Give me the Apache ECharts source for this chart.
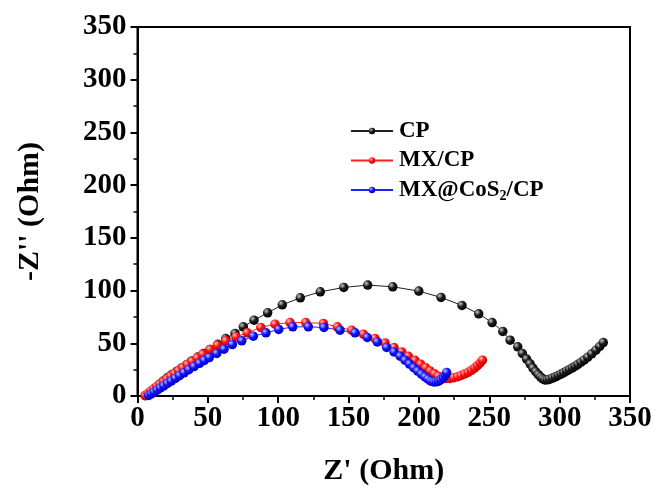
<!DOCTYPE html>
<html>
<head>
<meta charset="utf-8">
<script src="https://cdn.jsdelivr.net/npm/echarts@6/dist/echarts.min.js"></script>
<style>
  html, body { margin: 0; padding: 0; background: #fff; }
  #chart { width: 657px; height: 488px; }
</style>
</head>
<body>
<div id="chart"></div>
<script>
// Nyquist plots: [Z' (Ohm), -Z'' (Ohm)]
const seriesNames = ['CP', 'MX/CP', 'MX@CoS2/CP'];

const cpData = [
  [5.5, 0.3], [7.7, 1.6], [10.1, 4.8], [12.9, 8.0], [15.5, 11.1], [18.3, 14.3], [21.2, 17.5],
  [24.3, 20.3], [27.9, 23.5], [31.4, 26.6], [35.0, 29.8], [38.5, 33.3], [42.8, 37.0],
  [46.8, 40.3], [51.5, 44.1], [57.0, 49.1], [62.7, 54.5], [69.3, 59.3], [75.2, 65.6],
  [82.8, 71.9], [92.5, 78.9], [102.9, 86.5], [115.7, 93.1], [129.9, 98.8], [146.6, 103.0],
  [163.6, 105.2], [181.4, 103.6], [199.9, 99.5], [215.7, 93.5], [230.6, 85.9], [242.5, 77.9],
  [252.0, 69.7], [259.6, 61.2], [264.8, 52.9], [270.2, 46.6], [273.5, 40.3], [276.5, 35.0],
  [279.0, 30.5], [281.0, 26.5], [283.0, 23.0], [284.8, 20.2], [286.5, 18.0], [288.0, 16.3],
  [289.6, 15.2], [291.3, 15.3], [293.0, 16.0], [295.0, 17.0], [297.0, 18.2], [299.0, 19.5],
  [301.0, 20.8], [303.0, 22.2], [305.0, 23.7], [307.0, 25.2], [309.0, 26.7], [311.0, 28.3],
  [313.0, 30.0], [315.2, 32.0], [317.5, 34.2], [320.0, 36.8], [322.8, 40.0], [325.8, 43.5],
  [328.5, 47.0], [331.0, 50.7]
];

const mxData = [
  [5.5, 0.5], [7.5, 2.5], [9.5, 4.6], [11.6, 6.8], [13.8, 9.0], [16.1, 11.3], [18.5, 13.7],
  [21.0, 16.1], [23.6, 18.6], [26.3, 21.2], [29.2, 23.9], [32.2, 26.8], [35.4, 29.8],
  [38.8, 32.8], [42.4, 36.1], [46.3, 39.6], [51.5, 44.1], [56.7, 48.2], [62.7, 52.3],
  [70.0, 56.1], [78.0, 59.9], [87.6, 65.0], [97.7, 68.1], [108.4, 69.7], [119.5, 69.7],
  [132.1, 68.8], [142.0, 65.6], [152.2, 62.4], [160.5, 58.6], [168.8, 54.5], [175.9, 50.3],
  [182.3, 46.0], [187.8, 41.8], [192.5, 37.7], [197.2, 33.9], [201.2, 30.2], [204.8, 26.8],
  [208.0, 23.7], [211.0, 21.0], [213.8, 18.7], [216.5, 17.2], [219.2, 16.6], [222.0, 16.7],
  [224.8, 17.3], [227.5, 18.3], [230.0, 19.5], [232.5, 20.9], [235.0, 22.5], [237.3, 24.4],
  [239.5, 26.5], [241.6, 28.8], [243.5, 31.3], [245.1, 34.0]
];

const mxCosData = [
  [8.0, 0.5], [9.8, 2.0], [11.8, 3.7], [14.0, 5.6], [16.3, 7.6], [18.7, 9.7], [21.3, 11.9],
  [24.0, 14.2], [26.9, 16.7], [29.9, 19.3], [33.1, 22.0], [36.5, 24.9], [40.2, 27.9],
  [44.1, 31.0], [47.5, 33.7], [51.0, 36.5], [56.3, 40.3], [61.5, 44.4], [67.4, 48.8],
  [74.1, 52.3], [82.3, 56.7], [91.3, 59.9], [100.4, 63.1], [110.3, 65.6], [121.4, 65.6],
  [132.5, 65.0], [143.9, 62.4], [154.6, 59.9], [163.3, 55.5], [170.4, 51.3], [177.1, 46.0],
  [182.3, 41.8], [186.6, 37.7], [190.1, 33.9], [193.3, 30.3], [196.3, 26.8], [199.1, 23.6],
  [201.8, 20.7], [204.3, 18.1], [206.5, 15.9], [208.5, 14.2], [210.5, 13.3], [212.3, 13.4],
  [214.0, 14.2], [215.7, 15.6], [217.4, 17.6], [218.8, 19.8], [219.7, 22.3]
];

const xTicks = { min: 0, max: 350, step: 50 };
const yTicks = { min: 0, max: 350, step: 50 };

const serif = '"Times New Roman", "Liberation Serif", serif';

// shaded sphere marker
function ball(light, base, dark) {
  return {
    type: 'radial', x: 0.35, y: 0.32, r: 0.75,
    colorStops: [
      { offset: 0, color: light },
      { offset: 0.45, color: base },
      { offset: 1, color: dark }
    ]
  };
}

function makeSeries(name, data, lineColor, fill) {
  return {
    name: name,
    type: 'line',
    data: data,
    symbol: 'circle',
    symbolSize: 9.5,
    showSymbol: true,
    lineStyle: { width: 1, color: lineColor },
    itemStyle: { color: fill, borderWidth: 0 },
    emphasis: { disabled: true }
  };
}

function axisCommon(t) {
  return {
    type: 'value',
    min: t.min,
    max: t.max,
    interval: t.step,
    axisLine: { show: true, onZero: false, lineStyle: { color: '#000', width: 2 } },
    axisTick: { show: true, inside: false, length: 7, lineStyle: { color: '#000', width: 2 } },
    minorTick: { show: true, splitNumber: 2, length: 4, lineStyle: { color: '#000', width: 1.5 } },
    splitLine: { show: false },
    axisLabel: { color: '#000', fontSize: 29, fontWeight: 'bold', fontFamily: serif },
    nameLocation: 'middle',
    nameTextStyle: { color: '#000', fontSize: 30, fontWeight: 'bold', fontFamily: serif }
  };
}

const chart = echarts.init(document.getElementById('chart'), null, { renderer: 'canvas' });

const xAxis = axisCommon(xTicks);
xAxis.name = "Z' (Ohm)";
xAxis.nameGap = 60;
xAxis.axisLabel.margin = 8;

const yAxis = axisCommon(yTicks);
yAxis.name = "-Z'' (Ohm)";
yAxis.nameGap = 92;
yAxis.nameRotate = 90;
yAxis.axisLabel.margin = 11;

chart.setOption({
  animation: false,
  backgroundColor: '#fff',
  grid: {
    left: 137.5, right: 27, top: 27, bottom: 92,
    outerBoundsMode: 'none',
    show: true, borderColor: '#000', borderWidth: 2, backgroundColor: 'transparent'
  },
  legend: {
    orient: 'vertical',
    left: 350,
    top: 119,
    padding: 0,
    itemWidth: 42,
    itemHeight: 8,
    itemGap: 5.5,
    textStyle: {
      color: '#000', fontSize: 23, fontWeight: 'bold', fontFamily: serif, lineHeight: 24,
      padding: [0, 0, 0, 1],
      rich: {
        a: { color: '#000', fontSize: 23, fontWeight: 'bold', fontFamily: serif },
        s: { color: '#000', fontSize: 14, fontWeight: 'bold', fontFamily: serif, padding: [12, 0, 0, 0] }
      }
    },
    formatter: function (name) {
      if (name === 'MX@CoS2/CP') return '{a|MX@CoS}{s|2}{a|/CP}';
      return '{a|' + name + '}';
    },
    data: seriesNames
  },
  xAxis: xAxis,
  yAxis: yAxis,
  series: [
    makeSeries(seriesNames[0], cpData, '#222222', ball('#c8c8c8', '#1a1a1a', '#000000')),
    makeSeries(seriesNames[1], mxData, '#ff2020', ball('#ffc0c0', '#ff1010', '#c00000')),
    makeSeries(seriesNames[2], mxCosData, '#2020ff', ball('#c0c0ff', '#1010ff', '#0000b0'))
  ]
});
</script>
</body>
</html>
